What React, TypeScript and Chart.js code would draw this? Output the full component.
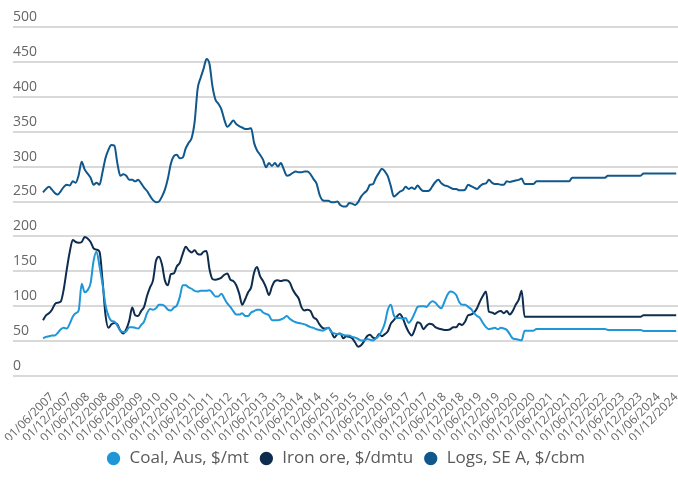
import { useEffect, useRef } from 'react';
import { Chart, registerables } from 'chart.js';

Chart.register(...registerables);

// Monthly categories: 01/03/2007 .. 01/12/2024
const START_YEAR = 2007;
const START_MONTH = 3;
const END_YEAR = 2024;
const END_MONTH = 12;

// Actual monthly values, 01/03/2007 .. 01/08/2020
const coalActual = [
  54, 56, 57, 58, 58, 62, 67, 69, 68, 75,
  85, 90, 94, 132, 120, 123, 133, 165, 178, 157,
  132, 102, 86, 79, 78, 72, 65, 63, 64, 70,
  70, 69, 68, 73, 78, 90, 96, 95, 97, 102,
  102, 100, 95, 94, 98, 101, 113, 130, 130, 127,
  125, 122, 121, 122, 122, 122, 123, 119, 114, 114,
  118, 111, 104, 99, 93, 88, 88, 90, 86, 86,
  91, 93, 95, 95, 91, 89, 87, 80, 80, 80,
  81, 83, 86, 82, 79, 77, 76, 75, 74, 72,
  70, 69, 67, 66, 65, 67, 69, 63, 61, 60,
  60, 59, 58, 58, 56, 55, 53, 51, 51, 53,
  52, 51, 54, 58, 65, 76, 95, 102, 87, 83,
  83, 82, 83, 76, 81, 90, 99, 100, 100, 99,
  104, 107, 105, 100, 97, 106, 116, 121, 120, 116,
  106, 102, 102, 99, 96, 90, 86, 83, 76, 70,
  67, 68, 69, 67, 69, 68, 66, 60, 54, 53,
  52, 51,
];

const ironActual = [
  80, 87, 90, 95, 103, 105, 107, 125, 153, 178,
  195, 192, 191, 192, 199, 197, 192, 183, 181, 178,
  138, 88, 69, 74, 76, 74, 65, 61, 67, 79,
  98, 87, 86, 93, 99, 115, 127, 137, 165, 171,
  160, 137, 130, 146, 147, 157, 162, 175, 185, 180,
  177, 180, 175, 174, 178, 179, 153, 139, 138, 139,
  141, 145, 147, 138, 136, 130, 118, 102, 110, 120,
  127, 148, 156, 143, 136, 127, 116, 128, 136, 137,
  136, 137, 137, 134, 124, 117, 111, 98, 94, 95,
  93, 84, 81, 74, 69, 68, 69, 63, 55, 60,
  61, 54, 57, 56, 54, 48, 42, 44, 50, 57,
  59, 55, 54, 60, 57, 60, 64, 75, 80, 85,
  89, 83, 72, 63, 58, 66, 77, 75, 67, 72,
  75, 74, 70, 68, 67, 66, 66, 67, 70, 70,
  75, 73, 78, 87, 88, 91, 97, 107, 115, 121,
  92, 91, 89, 92, 93, 90, 93, 88, 93, 102,
  109, 122,
];

const logsActual = [
  263, 268, 271, 267, 262, 260, 265, 271, 274, 273,
  279, 277, 288, 307, 296, 290, 284, 274, 277, 274,
  292, 312, 324, 331, 330, 305, 287, 289, 287, 281,
  281, 279, 281, 276, 270, 265, 258, 252, 249, 250,
  257, 267, 283, 304, 315, 317, 312, 313, 326, 334,
  341, 364, 411, 427, 440, 454, 447, 415, 396, 390,
  382, 367, 357, 361, 366, 361, 358, 356, 354, 354,
  355, 334, 323, 317, 310, 299, 305, 301, 305, 300,
  305, 296, 287, 288, 291, 293, 292, 292, 293, 293,
  289, 282, 276, 260, 252, 251, 251, 249, 249, 250,
  245, 243, 243, 248, 247, 245, 249, 257, 262, 266,
  274, 275, 284, 291, 297, 293, 286, 272, 257, 260,
  264, 266, 271, 268, 270, 268, 273, 268, 265, 265,
  266, 272, 278, 281, 276, 273, 272, 270, 268, 268,
  266, 266, 267, 274, 272, 270, 268, 272, 275, 276,
  281, 277, 275, 275, 274, 274, 279, 278, 279, 280,
  281, 283,
];

// Forecast periods (flat values from each start month)
const forecastStarts = ['01/09/2020', '01/01/2021', '01/01/2022', '01/01/2023', '01/01/2024'];
const coalForecast = [65, 67.5, 67.5, 66, 64.5];
const ironForecast = [85, 85, 85, 85, 87];
const logsForecast = [275, 279, 284, 287, 290];

const seriesNames = ['Coal, Aus, $/mt', 'Iron ore, $/dmtu', 'Logs, SE A, $/cbm'];
const seriesColors = ['#1f96d8', '#0e2c4e', '#10588c'];

const yTickValues = [0, 50, 100, 150, 200, 250, 300, 350, 400, 450, 500];
const labelMonths = ['06', '12'];

function buildMonths(): string[] {
  const out: string[] = [];
  let y = START_YEAR;
  let m = START_MONTH;
  while (y < END_YEAR || (y === END_YEAR && m <= END_MONTH)) {
    out.push(`01/${String(m).padStart(2, '0')}/${y}`);
    m++;
    if (m > 12) {
      m = 1;
      y++;
    }
  }
  return out;
}

const months = buildMonths();
const forecastIdx = forecastStarts.map((d) => months.indexOf(d));

function fullSeries(actual: number[], forecast: number[]) {
  const pts: { x: number; y: number }[] = actual.map((v, i) => ({ x: i, y: v }));
  for (let i = actual.length; i < months.length; i++) {
    let k = 0;
    for (let j = 0; j < forecastIdx.length; j++) if (forecastIdx[j] <= i) k = j;
    pts.push({ x: i, y: forecast[k] });
  }
  return pts;
}

const xTickIdx = months
  .map((d, i) => (labelMonths.includes(d.slice(3, 5)) ? i : -1))
  .filter((i) => i >= 0);

const FONT = "'Open Sans', 'Noto Sans', sans-serif";

export default function App() {
  const ref = useRef<HTMLCanvasElement | null>(null);

  useEffect(() => {
    if (!ref.current) return;
    const data = [coalActual, ironActual, logsActual].map((a, k) =>
      fullSeries(a, [coalForecast, ironForecast, logsForecast][k])
    );
    const chart = new Chart(ref.current, {
      type: 'line',
      data: {
        datasets: data.map((d, k) => ({
          label: seriesNames[k],
          data: d,
          borderColor: seriesColors[k],
          backgroundColor: seriesColors[k],
          borderWidth: 2,
          pointRadius: 0,
          cubicInterpolationMode: 'monotone' as const,
          fill: false,
        })),
      },
      options: {
        responsive: false,
        animation: false,
        layout: { padding: { left: 13, top: 27, right: 0, bottom: 19 } },
        plugins: {
          tooltip: { enabled: false },
          legend: {
            position: 'bottom',
            labels: {
              usePointStyle: true,
              pointStyle: 'circle',
              boxHeight: 8,
              boxWidth: 15,
              padding: 10,
              color: '#5a5a5a',
              font: { family: FONT, size: 17 },
            },
          },
        },
        scales: {
          x: {
            type: 'linear',
            min: -10.1,
            max: 213.6,
            grid: { display: false },
            border: { display: false },
            afterBuildTicks: (s: any) => {
              s.ticks = xTickIdx.map((v) => ({ value: v }));
            },
            afterFit: (s: any) => {
              s.paddingLeft = 0;
              s.paddingRight = 0;
              s.height = 64;
            },
            ticks: {
              autoSkip: false,
              minRotation: 45,
              maxRotation: 45,
              padding: 6,
              color: '#666666',
              font: { family: FONT, size: 12 },
              callback: (v: any) => months[Number(v)] ?? '',
            },
          },
          y: {
            min: 0,
            max: 500,
            afterBuildTicks: (s: any) => {
              s.ticks = yTickValues.map((v) => ({ value: v }));
            },
            afterFit: (s: any) => {
              s.paddingTop = 0;
              s.paddingBottom = 0;
            },
            grid: { color: '#d9d9d9', lineWidth: 2, drawTicks: false },
            border: { display: false },
            ticks: {
              mirror: true,
              padding: 0,
              labelOffset: -10,
              color: '#666666',
              font: { family: FONT, size: 14 },
            },
          },
        },
      },
    });
    return () => chart.destroy();
  }, []);

  return (
    <div style={{ position: 'absolute', left: 0, top: 0, width: 678, height: 496, background: '#fff' }}>
      <canvas ref={ref} width={678} height={496} style={{ display: 'block' }} />
    </div>
  );
}
